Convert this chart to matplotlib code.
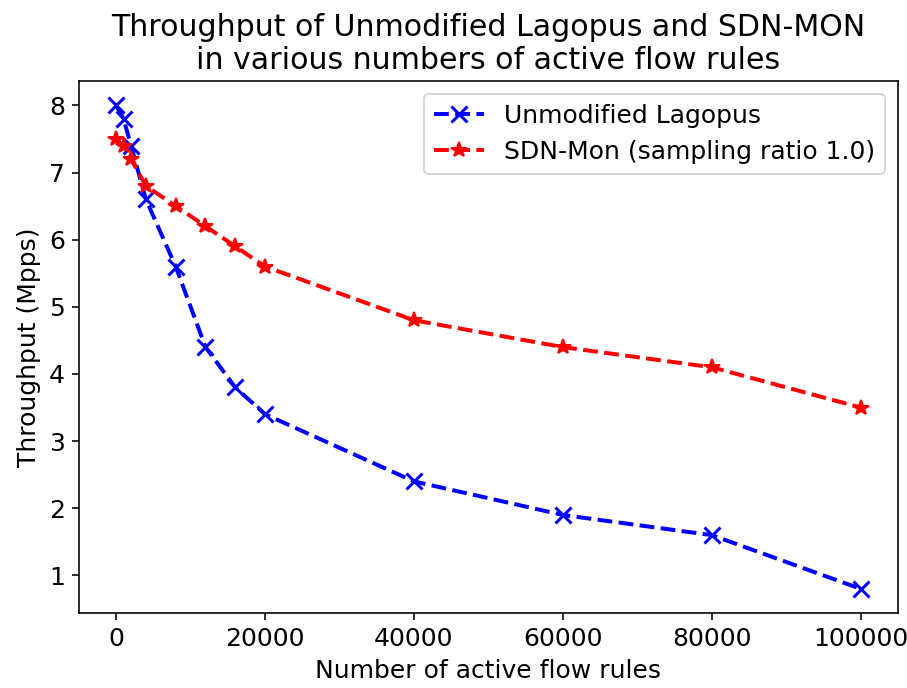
import numpy as np
import matplotlib.pyplot as plt

# number of active flow rules
flows = [0, 1000, 2000, 4000, 8000, 12000, 16000, 20000, 40000, 60000, 80000, 100000]
# throughput (Mpps)
lagopus = [8.0, 7.8, 7.4, 6.6, 5.6, 4.4, 3.8, 3.4, 2.4, 1.9, 1.6, 0.8]
sdnmon = [7.5, 7.4, 7.2, 6.8, 6.5, 6.2, 5.9, 5.6, 4.8, 4.4, 4.1, 3.5]

plt.rcParams['font.size'] = 12.5
fig = plt.figure(figsize=(907/144, 688/144), dpi=144)
plt.plot(flows, lagopus, 'bx--', label='Unmodified Lagopus', markersize=8,
         markeredgewidth=1.5, linewidth=2)
plt.plot(flows, sdnmon, 'r*--', label='SDN-Mon (sampling ratio 1.0)', markersize=8, linewidth=2)
plt.title('Throughput of Unmodified Lagopus and SDN-MON\nin various numbers of active flow rules', fontsize=15)
plt.xlabel('Number of active flow rules')
plt.ylabel('Throughput (Mpps)')
plt.legend()
plt.subplots_adjust(left=0.087, right=0.990, top=0.882, bottom=0.109)
plt.savefig('out.png', dpi=144)
